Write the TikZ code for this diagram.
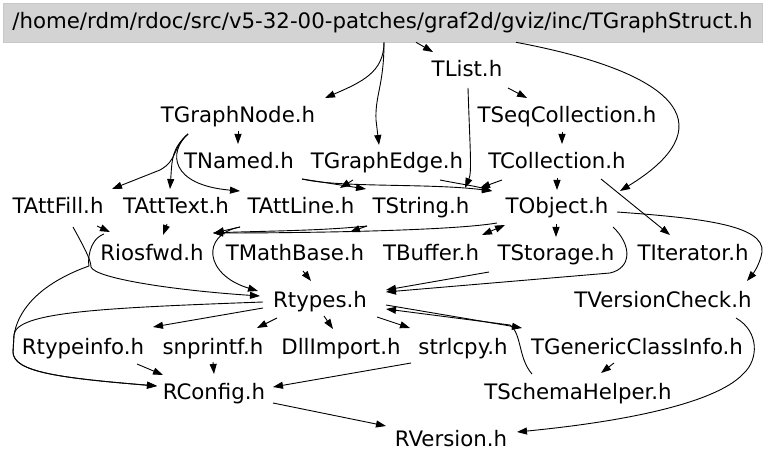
\documentclass[tikz,border=0pt]{standalone}
\usepackage{fontspec}
\setmainfont{DejaVu Sans}
\usetikzlibrary{arrows.meta}
\definecolor{hdrgray}{HTML}{D3D3D3}
\definecolor{hdrline}{HTML}{C8C8C8}
\tikzset{
  n/.style={inner xsep=4bp, inner ysep=4bp, text height=16.5bp, text depth=3.5bp,
    font=\fontsize{21.3bp}{25bp}\selectfont},
  hdrbox/.style={n, fill=hdrgray, draw=hdrline, line width=0.6bp,
    minimum width=759bp, minimum height=39bp},
  e/.style={draw, line width=0.9bp, -{Triangle[length=10bp,width=7bp]}},
  eb/.style={draw, line width=0.9bp, {Triangle[length=10bp,width=7bp]}-{Triangle[length=10bp,width=7bp]}}
}
\begin{document}
\begin{tikzpicture}[x=1bp,y=-1bp]
\useasboundingbox[fill=white] (0,0) rectangle (768,461);
\node[hdrbox] (hdr) at (382.5,22.5) {/home/rdm/rdoc/src/v5-32-00-patches/graf2d/gviz/inc/TGraphStruct.h};
\node[n] (tlist) at (467,70.5) {TList.h};
\node[n] (tgnode) at (238,116.5) {TGraphNode.h};
\node[n] (tseq) at (567,116.5) {TSeqCollection.h};
\node[n] (tnamed) at (239,162.5) {TNamed.h};
\node[n] (tgedge) at (387,162.5) {TGraphEdge.h};
\node[n] (tcoll) at (557,162.5) {TCollection.h};
\node[n] (tattfill) at (58,207.5) {TAttFill.h};
\node[n] (tatttext) at (176,207.5) {TAttText.h};
\node[n] (tattline) at (301,207.5) {TAttLine.h};
\node[n] (tstring) at (421,207.5) {TString.h};
\node[n] (tobject) at (557,207.5) {TObject.h};
\node[n] (riosfwd) at (152,254.5) {Riosfwd.h};
\node[n] (tmath) at (295,254.5) {TMathBase.h};
\node[n] (tbuffer) at (431,254.5) {TBuffer.h};
\node[n] (tstorage) at (556,254.5) {TStorage.h};
\node[n] (titer) at (693,254.5) {TIterator.h};
\node[n] (rtypes) at (320,301.5) {Rtypes.h};
\node[n] (tvcheck) at (663,301.5) {TVersionCheck.h};
\node[n] (rtypeinfo) at (83,347.5) {Rtypeinfo.h};
\node[n] (snprintf) at (213,347.5) {snprintf.h};
\node[n] (dllimport) at (341,347.5) {DllImport.h};
\node[n] (strlcpy) at (463,347.5) {strlcpy.h};
\node[n] (tgeneric) at (637,347.5) {TGenericClassInfo.h};
\node[n] (rconfig) at (214,392.5) {RConfig.h};
\node[n] (tschema) at (578,392.5) {TSchemaHelper.h};
\node[n] (rversion) at (451,439.5) {RVersion.h};

% header edges
\draw[e] ([shift={(1.5,0)}]hdr.south) .. controls (384,72) and (362,82) .. ([shift={(87,-18.5)}]tgnode.center);
\draw[e] ([shift={(1.5,0)}]hdr.south) .. controls (384,85) and (375,95) .. (376,120) -- ([shift={(-8,-17.5)}]tgedge.center);
\draw[e] ([shift={(33.5,0)}]hdr.south) -- ([shift={(-34,-18.5)}]tlist.center);
\draw[e] ([shift={(133.5,0)}]hdr.south) .. controls (690,75) and (720,130) .. ([shift={(63,-16.5)}]tobject.center);
% TList
\draw[e] ([shift={(41,17.5)}]tlist.center) -- ([shift={(-40,-18.5)}]tseq.center);
\draw[e] ([shift={(1,17.5)}]tlist.center) .. controls (470,150) and (472,172) .. ([shift={(44,-19.5)}]tstring.center);
% collections
\draw[e] ([shift={(-5,15.5)}]tseq.center) -- ([shift={(5,-18.5)}]tcoll.center);
\draw[e] ([shift={(0,15.5)}]tcoll.center) -- ([shift={(0,-17.5)}]tobject.center);
\draw[e] ([shift={(44,16.5)}]tcoll.center) -- ([shift={(-23,-19.5)}]titer.center);
\draw[e] ([shift={(-55,17.5)}]tcoll.center) -- ([shift={(59,-19.5)}]tstring.center);
% TGraphNode
\draw[e] ([shift={(0,14.5)}]tgnode.center) -- ([shift={(-1,-18.5)}]tnamed.center);
\draw[e] ([shift={(-50,17.5)}]tgnode.center) .. controls (172,148) and (178,160) .. (160,170) -- ([shift={(54,-18.5)}]tattfill.center);
\draw[e] ([shift={(-50,17.5)}]tgnode.center) .. controls (172,148) and (172,160) .. (171,175) -- ([shift={(-6,-18.5)}]tatttext.center);
\draw[e] ([shift={(-50,17.5)}]tgnode.center) .. controls (168,152) and (170,185) .. ([shift={(-61,-16.5)}]tattline.center);
% TNamed, TGraphEdge
\draw[e] ([shift={(63,16.5)}]tnamed.center) -- ([shift={(-55,-18.5)}]tstring.center);
\draw[e] ([shift={(63,16.5)}]tnamed.center) .. controls (340,188) and (430,183) .. ([shift={(-65,-16.5)}]tobject.center);
\draw[e] ([shift={(-34,17.5)}]tgedge.center) -- ([shift={(39,-19.5)}]tattline.center);
\draw[e] ([shift={(53,17.5)}]tgedge.center) .. controls (460,184) and (475,186) .. ([shift={(-65,-16.5)}]tobject.center);
% TObject, TString to lower
\draw[e] ([shift={(-60,15.5)}]tobject.center) .. controls (450,231) and (300,233) .. ([shift={(61,-21.5)}]riosfwd.center);
\draw[e] ([shift={(-54,18.5)}]tstring.center) -- ([shift={(55,-22.5)}]tmath.center);
\draw[e] ([shift={(-54,18.5)}]tstring.center) .. controls (320,231) and (260,231) .. ([shift={(61,-21.5)}]riosfwd.center);
\draw[e] ([shift={(-61,19.5)}]tattline.center) -- ([shift={(62,-21.5)}]riosfwd.center);
\draw[e] ([shift={(-61,19.5)}]tattline.center) .. controls (200,235) and (205,275) .. ([shift={(-62,-10.5)}]rtypes.center);
\draw[eb] ([shift={(51,-19.5)}]tbuffer.center) -- ([shift={(-52,17.5)}]tobject.center);
\draw[e] ([shift={(-1,16.5)}]tobject.center) -- ([shift={(0,-17.5)}]tstorage.center);
\draw[e] ([shift={(60,4.5)}]tobject.center) .. controls (700,218) and (765,225) .. (762,252) .. controls (760,265) and (752,275) .. ([shift={(84,-20.5)}]tvcheck.center);
\draw[e] ([shift={(56,19.5)}]tobject.center) .. controls (632,245) and (632,268) .. (610,273) -- ([shift={(66,-9.5)}]rtypes.center);
\draw[e] ([shift={(-67,17.5)}]tstorage.center) -- ([shift={(66,-11.5)}]rtypes.center);
\draw[e] ([shift={(8,16.5)}]tmath.center) -- ([shift={(-9,-20.5)}]rtypes.center);
% TAtt*
\draw[e] ([shift={(15,19.5)}]tattfill.center) .. controls (84,247) and (91,260) .. (91,267) .. controls (95,278) and (170,290) .. ([shift={(-60,-5.5)}]rtypes.center);
\draw[e] ([shift={(39,18.5)}]tattfill.center) -- ([shift={(-42,-22.5)}]riosfwd.center);
\draw[e] ([shift={(-9,16.5)}]tatttext.center) -- ([shift={(11,-19.5)}]riosfwd.center);
% to RConfig on the left
\draw[e] ([shift={(-48,-20.5)}]riosfwd.center) .. controls (88,240) and (88,262) .. (89,266) .. controls (55,278) and (20,300) .. (14,335) -- (13,352) .. controls (13,372) and (60,378) .. ([shift={(-57,-6.5)}]rconfig.center);
\draw[e] ([shift={(-57,0.5)}]rtypes.center) .. controls (100,308) and (16,312) .. (14,335) -- (13,352) .. controls (13,372) and (60,378) .. ([shift={(-57,-6.5)}]rconfig.center);
% Rtypes
\draw[e] ([shift={(-57,6.5)}]rtypes.center) -- ([shift={(70,-20.5)}]rtypeinfo.center);
\draw[e] ([shift={(-43,16.5)}]rtypes.center) -- ([shift={(44,-19.5)}]snprintf.center);
\draw[e] ([shift={(4,14.5)}]rtypes.center) -- ([shift={(-8,-18.5)}]dllimport.center);
\draw[e] ([shift={(57,15.5)}]rtypes.center) -- ([shift={(-53,-19.5)}]strlcpy.center);
\draw[e] ([shift={(66,3.5)}]rtypes.center) -- ([shift={(-115,-19.5)}]tgeneric.center);
\draw[e] ([shift={(-46,-18.5)}]tschema.center) .. controls (518,358) and (522,334) .. (510,325) -- ([shift={(66,7.5)}]rtypes.center);
\draw[e] ([shift={(-23,15.5)}]tgeneric.center) -- ([shift={(23,-19.5)}]tschema.center);
% RConfig, RVersion
\draw[e] ([shift={(54,16.5)}]rtypeinfo.center) -- ([shift={(-51,-17.5)}]rconfig.center);
\draw[e] ([shift={(0,14.5)}]snprintf.center) -- ([shift={(0,-18.5)}]rconfig.center);
\draw[e] ([shift={(-52,15.5)}]strlcpy.center) -- ([shift={(59,-5.5)}]rconfig.center);
\draw[e] ([shift={(59,10.5)}]rconfig.center) -- ([shift={(-65,-13.5)}]rversion.center);
\draw[e] ([shift={(73,16.5)}]tvcheck.center) .. controls (760,332) and (758,360) .. (744,373) .. controls (720,400) and (640,420) .. ([shift={(66,-7.5)}]rversion.center);
\end{tikzpicture}
\end{document}
